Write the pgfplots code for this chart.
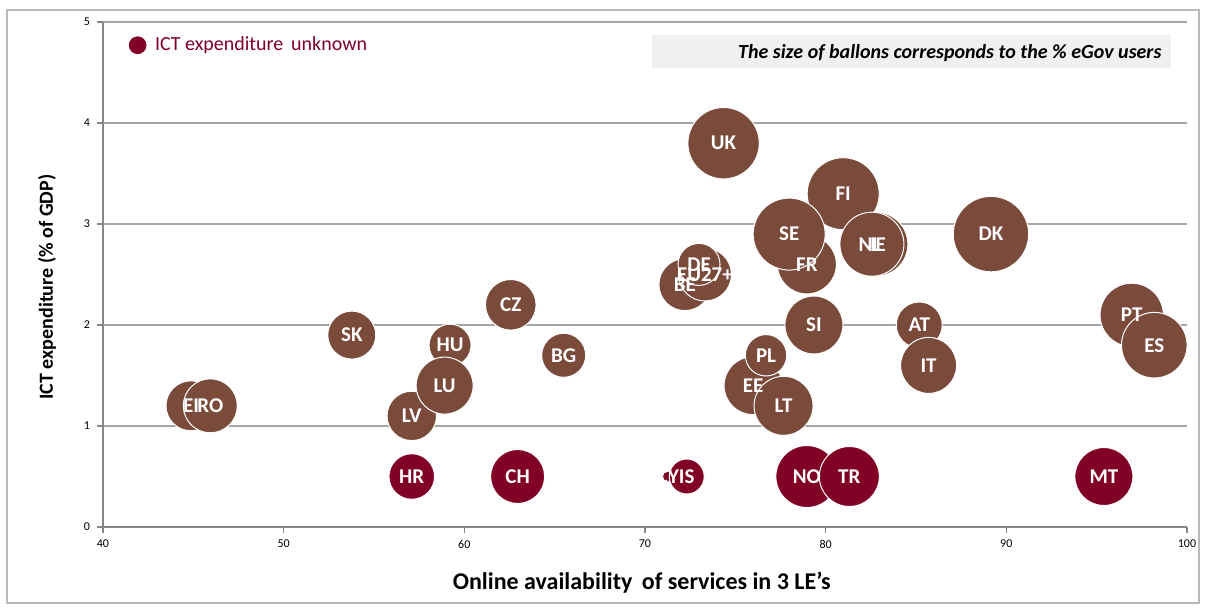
\documentclass[border=0pt]{standalone}
\usepackage{fontspec}
\setmainfont{Carlito}
\usepackage{pgfplots}
\pgfplotsset{compat=1.18}
\definecolor{bubbrown}{RGB}{122,74,58}
\definecolor{bubred}{RGB}{128,0,38}
\definecolor{gridgray}{RGB}{165,165,165}
\definecolor{axgray}{RGB}{134,134,134}
\definecolor{boxgray}{RGB}{240,240,240}

% bub={colour}{radius}: one balloon; radius relative to the % eGov users
\pgfplotsset{
  bub/.style 2 args={only marks, mark=*, mark size=#2,
    mark options={draw=white, fill=#1, line width=0.5pt}, forget plot},
}

\begin{document}
\begin{tikzpicture}
\begin{axis}[
  at={(0,0)}, anchor=south west,
  scale only axis, width=542pt, height=252.5pt,
  xmin=40, xmax=100, ymin=0, ymax=5,
  xtick={40,50,...,100}, ytick={0,1,...,5},
  axis x line=bottom, axis y line=left,
  axis line style={-, draw=axgray, line width=0.6pt},
  ymajorgrids, grid style={gridgray, line width=0.6pt},
  tick align=outside, major tick length=3pt,
  tick style={axgray, line width=0.6pt},
  ticklabel style={font=\fontsize{6}{7}\selectfont},
  /pgf/number format/assume math mode=true,
  clip=false,
  xlabel={\bfseries Online availability\, of services in 3 LE's},
  ylabel={\bfseries ICT expenditure (\% of GDP)},
  xlabel style={at={(axis description cs:0.497,-0.111)}, anchor=center, font=\fontsize{12}{14}\selectfont},
  ylabel style={at={(axis description cs:-0.0517,0.475)}, anchor=center, font=\fontsize{10}{12}\selectfont},
  legend style={at={(axis cs:41.41,4.77)}, anchor=west, draw=none, fill=none,
    font=\fontsize{10}{12}\selectfont, text=bubred, inner sep=0pt},
  legend cell align=left,
  nodes near coords style={anchor=center, text=white, font=\bfseries\fontsize{10.5}{12}\selectfont, inner sep=0pt},
]
\fill[boxgray] (axis cs:70.38,4.871) rectangle (axis cs:99.10,4.545);
\node[anchor=east, inner sep=0pt, font=\bfseries\itshape\fontsize{10}{12}\selectfont] at (axis cs:98.61,4.69) {The size of ballons corresponds to the \% eGov users};

% ICT expenditure known (brown)
\addplot[bub={bubbrown}{12.5pt}]  coordinates {(44.87,1.20)}; % EI
\addplot[bub={bubbrown}{13.5pt}]  coordinates {(45.94,1.20)}; % RO
\addplot[bub={bubbrown}{12pt}]    coordinates {(53.77,1.90)}; % SK
\addplot[bub={bubbrown}{10.5pt}]  coordinates {(59.21,1.80)}; % HU
\addplot[bub={bubbrown}{12.35pt}] coordinates {(57.09,1.10)}; % LV
\addplot[bub={bubbrown}{14.25pt}] coordinates {(58.91,1.40)}; % LU
\addplot[bub={bubbrown}{12.65pt}] coordinates {(62.57,2.20)}; % CZ
\addplot[bub={bubbrown}{11pt}]    coordinates {(65.50,1.70)}; % BG
\addplot[bub={bubbrown}{13pt}]    coordinates {(72.21,2.40)}; % BE
\addplot[bub={bubbrown}{13.25pt}] coordinates {(73.32,2.50)}; % EU27+
\addplot[bub={bubbrown}{10.5pt}]  coordinates {(72.99,2.60)}; % DE
\addplot[bub={bubbrown}{17.85pt}] coordinates {(74.35,3.80)}; % UK
\addplot[bub={bubbrown}{14.5pt}]  coordinates {(75.98,1.40)}; % EE
\addplot[bub={bubbrown}{10.35pt}] coordinates {(76.70,1.70)}; % PL
\addplot[bub={bubbrown}{14.75pt}] coordinates {(77.67,1.20)}; % LT
\addplot[bub={bubbrown}{18pt}]    coordinates {(80.97,3.30)}; % FI
\addplot[bub={bubbrown}{14.75pt}] coordinates {(78.96,2.60)}; % FR
\addplot[bub={bubbrown}{18pt}]    coordinates {(77.98,2.90)}; % SE
\addplot[bub={bubbrown}{14.5pt}]  coordinates {(79.35,2.00)}; % SI
\addplot[bub={bubbrown}{16pt}]    coordinates {(82.78,2.80)}; % IE
\addplot[bub={bubbrown}{16pt}]    coordinates {(82.56,2.80)}; % NL
\addplot[bub={bubbrown}{11.5pt}]  coordinates {(85.18,2.00)}; % AT
\addplot[bub={bubbrown}{14pt}]    coordinates {(85.70,1.60)}; % IT
\addplot[bub={bubbrown}{18.85pt}] coordinates {(89.15,2.90)}; % DK
\addplot[bub={bubbrown}{15.85pt}] coordinates {(96.94,2.10)}; % PT
\addplot[bub={bubbrown}{16.4pt}]  coordinates {(98.19,1.80)}; % ES

% ICT expenditure unknown (red)
\addplot[bub={bubred}{2.75pt}]  coordinates {(71.27,0.50)}; % CY
\addplot[bub={bubred}{8.75pt}]  coordinates {(72.31,0.50)}; % IS
\addplot[bub={bubred}{11.4pt}]  coordinates {(57.09,0.50)}; % HR
\addplot[bub={bubred}{13.5pt}]  coordinates {(62.95,0.50)}; % CH
\addplot[bub={bubred}{15.5pt}]  coordinates {(78.96,0.50)}; % NO
\addplot[bub={bubred}{15pt}]    coordinates {(81.31,0.50)}; % TR
\addplot[bub={bubred}{14.5pt}]  coordinates {(95.40,0.50)}; % MT

% balloon labels, drawn on top of all balloons
\addplot[only marks, mark=none, point meta=explicit symbolic, nodes near coords, forget plot] coordinates {
 (44.87,1.20) [EI] (45.94,1.20) [RO] (53.77,1.90) [SK] (59.21,1.80) [HU]
 (57.09,1.10) [LV] (58.91,1.40) [LU] (62.57,2.20) [CZ] (65.50,1.70) [BG]
 (72.21,2.40) [BE] (73.32,2.50) [EU27+] (72.99,2.60) [DE] (74.35,3.80) [UK]
 (75.98,1.40) [EE] (76.70,1.70) [PL] (77.67,1.20) [LT] (80.97,3.30) [FI]
 (78.96,2.60) [FR] (77.98,2.90) [SE] (79.35,2.00) [SI] (82.90,2.80) [IE]
 (82.45,2.80) [NL] (85.18,2.00) [AT] (85.70,1.60) [IT] (89.15,2.90) [DK]
 (96.94,2.10) [PT] (98.19,1.80) [ES]
 (71.27,0.50) [CY] (72.31,0.50) [IS] (57.09,0.50) [HR] (62.95,0.50) [CH]
 (78.96,0.50) [NO] (81.31,0.50) [TR] (95.40,0.50) [MT]
};

\addlegendimage{legend image code/.code={\fill[bubred] (0pt,0pt) circle (4.2pt); \path (6.5pt,0pt);}}
\addlegendentry{ICT expenditure\, unknown}
\end{axis}
\draw[gray!55, line width=0.7pt] (-48pt,-38pt) rectangle (548pt,258.5pt);
\useasboundingbox (-51.5pt,-42pt) rectangle (551.5pt,263.5pt);
\end{tikzpicture}
\end{document}
